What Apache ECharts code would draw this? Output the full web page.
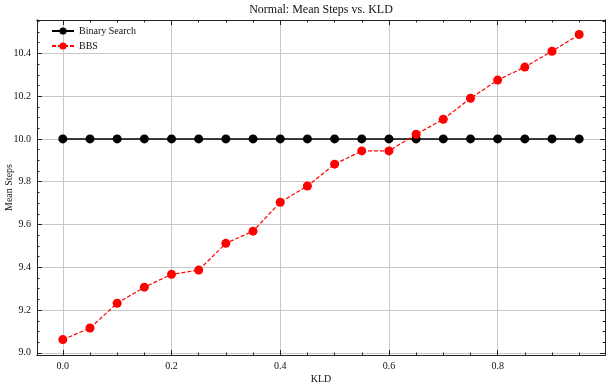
<!DOCTYPE html>
<html>
<head>
    <meta charset="utf-8">
    <title>Normal: Mean Steps vs. KLD</title>
    <script src="https://cdn.jsdelivr.net/npm/echarts@6/dist/echarts.min.js"></script>
</head>
<body style="margin:0">
    <div id="main" style="width: 609px;height:386px;"></div>
    <script type="text/javascript">
        var kld = [0.0, 0.05, 0.1, 0.15, 0.2, 0.25, 0.3, 0.35, 0.4, 0.45,
                   0.5, 0.55, 0.6, 0.65, 0.7, 0.75, 0.8, 0.85, 0.9, 0.95];
        var binarySearch = [10.0, 10.0, 10.0, 10.0, 10.0, 10.0, 10.0, 10.0, 10.0, 10.0,
                            10.0, 10.0, 10.0, 10.0, 10.0, 10.0, 10.0, 10.0, 10.0, 10.0];
        var bbs = [9.062, 9.116, 9.232, 9.307, 9.367, 9.387, 9.512, 9.569, 9.704, 9.780,
                   9.882, 9.944, 9.944, 10.022, 10.092, 10.190, 10.275, 10.336, 10.410, 10.488];
        var xMajor = [0.0, 0.2, 0.4, 0.6, 0.8];
        var xMinor = [-0.05, 0.05, 0.1, 0.15, 0.25, 0.3, 0.35, 0.45, 0.5, 0.55, 0.65, 0.7, 0.75, 0.85, 0.9, 0.95];
        var yMajor = [9.0, 9.2, 9.4, 9.6, 9.8, 10.0, 10.2, 10.4];
        var yMinor = [9.05, 9.1, 9.15, 9.25, 9.3, 9.35, 9.45, 9.5, 9.55, 9.65, 9.7, 9.75,
                      9.85, 9.9, 9.95, 10.05, 10.1, 10.15, 10.25, 10.3, 10.35, 10.45, 10.5, 10.55];

        var font = 'Liberation Serif';
        var xRange = [-0.0475, 0.9975];
        var yRange = [8.99, 10.556];

        // one axis per side for major ticks and another for minor ticks
        function makeAxis(kind, pos, values, len, main) {
            var range = kind === 'x' ? xRange : yRange;
            var ax = {
                type: 'value',
                position: pos,
                min: range[0],
                max: range[1],
                axisLine: { show: true, onZero: false, lineStyle: { color: '#222', width: 1 } },
                axisTick: { show: true, inside: true, length: len, customValues: values,
                            lineStyle: { color: '#222', width: 1 } },
                axisLabel: { show: false },
                splitLine: { show: false }
            };
            if (main) {
                ax.axisLabel = {
                    show: true, customValues: values, color: '#111',
                    fontFamily: font, fontSize: 10, margin: 6,
                    formatter: function (v) { return v.toFixed(1); }
                };
                ax.splitLine = { show: true, lineStyle: { color: '#c8c8c8', width: 1 } };
                ax.name = kind === 'x' ? 'KLD' : 'Mean Steps';
                ax.nameLocation = 'middle';
                ax.nameMoveOverlap = false;
                ax.nameGap = kind === 'x' ? 19 : 23;
                ax.nameTextStyle = { fontFamily: font, fontSize: 10, color: '#111' };
            }
            return ax;
        }

        var myChart = echarts.init(document.getElementById('main'));

        var option = {
            backgroundColor: '#fff',
            animation: false,
            title: {
                text: 'Normal: Mean Steps vs. KLD',
                left: 321,
                textAlign: 'center',
                top: 4,
                padding: 0,
                textStyle: { fontFamily: font, fontSize: 12, fontWeight: 'normal', color: '#111' }
            },
            legend: {
                left: 46,
                top: 21,
                orient: 'vertical',
                itemWidth: 22,
                itemHeight: 9,
                itemGap: 5,
                textStyle: { fontFamily: font, fontSize: 10, color: '#111' },
                data: ['Binary Search', 'BBS']
            },
            grid: { left: 37, right: 4, top: 20, bottom: 31, outerBoundsMode: 'none', containLabel: false },
            xAxis: [
                makeAxis('x', 'bottom', xMajor, 5, true),
                makeAxis('x', 'bottom', xMinor, 2.5, false),
                makeAxis('x', 'top', xMajor, 5, false),
                makeAxis('x', 'top', xMinor, 2.5, false)
            ],
            yAxis: [
                makeAxis('y', 'left', yMajor, 5, true),
                makeAxis('y', 'left', yMinor, 2.5, false),
                makeAxis('y', 'right', yMajor, 5, false),
                makeAxis('y', 'right', yMinor, 2.5, false)
            ],
            series: [{
                name: 'Binary Search',
                type: 'line',
                data: kld.map(function (k, i) { return [k, binarySearch[i]]; }),
                symbol: 'circle',
                symbolSize: 9,
                itemStyle: { color: '#000' },
                lineStyle: { color: '#000', width: 1.5 }
            }, {
                name: 'BBS',
                type: 'line',
                data: kld.map(function (k, i) { return [k, bbs[i]]; }),
                symbol: 'circle',
                symbolSize: 9,
                itemStyle: { color: '#ff0000' },
                lineStyle: { color: '#ff0000', width: 1.2, type: [4, 2] }
            }]
        };

        myChart.setOption(option);
    </script>
</body>
</html>
